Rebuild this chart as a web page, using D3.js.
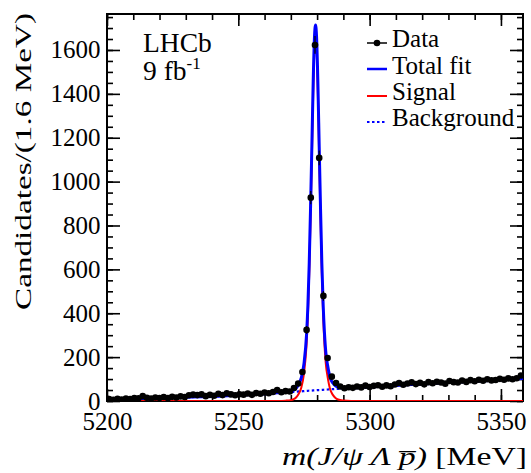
<!DOCTYPE html>
<html><head><meta charset="utf-8">
<script src="https://cdn.jsdelivr.net/npm/d3@7"></script>
<style>
body{margin:0;background:#fff}
svg{display:block}
text{font-family:"Liberation Serif","Times New Roman",serif;fill:#000}
</style>
</head><body>
<svg id="c" width="531" height="473"></svg>
<script>
// ---- data ----
const binCenters=[5200.8,5202.4,5204.0,5205.6,5207.2,5208.8,5210.4,5212.0,5213.6,5215.2,
5216.8,5218.4,5220.0,5221.6,5223.2,5224.8,5226.4,5228.0,5229.6,5231.2,
5232.8,5234.4,5236.0,5237.6,5239.2,5240.8,5242.4,5244.0,5245.6,5247.2,
5248.8,5250.4,5252.0,5253.6,5255.2,5256.8,5258.4,5260.0,5261.6,5263.2,
5264.8,5266.4,5268.0,5269.6,5271.2,5272.8,5274.4,5276.0,5277.6,5279.2,
5280.8,5282.4,5284.0,5285.6,5287.2,5288.8,5290.4,5292.0,5293.6,5295.2,
5296.8,5298.4,5300.0,5301.6,5303.2,5304.8,5306.4,5308.0,5309.6,5311.2,
5312.8,5314.4,5316.0,5317.6,5319.2,5320.8,5322.4,5324.0,5325.6,5327.2,
5328.8,5330.4,5332.0,5333.6,5335.2,5336.8,5338.4,5340.0,5341.6,5343.2,
5344.8,5346.4,5348.0,5349.6,5351.2,5352.8,5354.4,5356.0,5357.6];
const counts=[9,6,10,7,11,9,14,12,22,15,
11,16,14,18,13,19,16,21,18,26,
29,27,30,22,28,24,33,27,35,30,
26,31,29,34,28,36,33,39,35,41,
50,40,45,43,59,80,132,324,927,1623,
1108,479,196,111,82,66,58,63,60,66,
62,70,64,69,72,65,71,67,75,82,
74,80,85,77,83,76,86,81,88,84,
79,91,86,84,93,87,95,90,97,92,
99,94,96,101,97,103,99,104,116];

const fitMass=[5200,5210,5220,5230,5240,5250,5260,5265,5268,5270,5271,5272,5273,5274,5275,5276,5276.5,5277,5277.5,5278,5278.5,5279,5279.4,5279.8,5280.3,5280.8,5281.3,5281.8,5282.3,5282.8,5283.4,5284,5285,5286,5287,5288,5290,5293,5300,5310,5320,5330,5340,5350,5358.4];
const fitSignal=[0,0,0,0,0,0,0,0.3,1.5,4,8,16,33,62,125,260,390,580,830,1110,1400,1610,1665,1610,1400,1110,830,580,390,260,160,110,52,28,14,7,2.5,0.5,0,0,0,0,0,0,0];
const fitBackground=[7,10,13,17,21,26,33,37,39.5,41,42,42.5,43.5,44,45,46,46.5,47,47,47.5,48,48.5,48.5,49,49.5,49.5,50,50.5,51,51.5,52,52.5,53,54,55,55.5,57,59,64,71,78,84,90,97,103];
const fitTotal=[7,10,13,17,21,26,33,37.3,41,45,50,58.5,76.5,106,170,306,436.5,627,877,1157.5,1448,1658.5,1713.5,1659,1449.5,1159.5,880,630.5,441,311.5,212,162.5,105,82,69,62.5,59.5,59.5,64,71,78,84,90,97,103];

const xTicks=[5200,5250,5300,5350];
const yTicks=[0,200,400,600,800,1000,1200,1400,1600];
const legendLabels=["Data","Total fit","Signal","Background"];

// ---- layout ----
const L=107,R=523,T=14,B=401;
const svg=d3.select("#c");
const x=d3.scaleLinear().domain([5200,5358.4]).range([L,R]);
const y=d3.scaleLinear().domain([0,1764]).range([B,T]);

svg.append("defs").append("clipPath").attr("id","clip")
  .append("rect").attr("x",L).attr("y",T).attr("width",R-L).attr("height",B-T);

// axes ticks
const xMinor=d3.range(5200,5358,10);
const yMinor=d3.range(0,1764,50);
function styleAxis(g){g.select(".domain").remove();g.selectAll("line").attr("stroke","#000").attr("stroke-width",1.6);}
svg.append("g").attr("transform",`translate(0,${B})`)
  .call(d3.axisBottom(x).tickValues(xMinor).tickSize(-6).tickFormat("")).call(styleAxis);
svg.append("g").attr("transform",`translate(0,${T})`)
  .call(d3.axisTop(x).tickValues(xMinor).tickSize(-6).tickFormat("")).call(styleAxis);
svg.append("g").attr("transform",`translate(0,${T})`)
  .call(d3.axisTop(x).tickValues(xTicks).tickSize(-12).tickFormat("")).call(styleAxis);
svg.append("g").attr("transform",`translate(${L},0)`)
  .call(d3.axisLeft(y).tickValues(yMinor).tickSize(-6).tickFormat("")).call(styleAxis);
svg.append("g").attr("transform",`translate(${R},0)`)
  .call(d3.axisRight(y).tickValues(yMinor).tickSize(-6).tickFormat("")).call(styleAxis);
svg.append("g").attr("transform",`translate(${R},0)`)
  .call(d3.axisRight(y).tickValues(yTicks).tickSize(-13).tickFormat("")).call(styleAxis);

const xAx=svg.append("g").attr("transform",`translate(0,${B})`)
  .call(d3.axisBottom(x).tickValues(xTicks).tickSize(-12).tickPadding(11).tickFormat(d3.format("d")));
styleAxis(xAx);
xAx.selectAll("text").attr("font-size",25).attr("font-family","Liberation Serif").attr("fill","#000");

const yAx=svg.append("g").attr("transform",`translate(${L},0)`)
  .call(d3.axisLeft(y).tickValues(yTicks).tickSize(-13).tickPadding(6.5).tickFormat(d3.format("d")));
styleAxis(yAx);
yAx.selectAll("text").attr("font-size",25).attr("font-family","Liberation Serif").attr("fill","#000");

// frame
svg.append("rect").attr("x",L).attr("y",T).attr("width",R-L).attr("height",B-T)
  .attr("fill","none").attr("stroke","#000").attr("stroke-width",2);

// curves
const plot=svg.append("g").attr("clip-path","url(#clip)");
const idx=d3.range(fitMass.length);
const mk=arr=>d3.line().x(i=>x(fitMass[i])).y(i=>y(arr[i])).curve(d3.curveMonotoneX);
plot.append("path").attr("d",mk(fitBackground)(idx)).attr("fill","none")
  .attr("stroke","#0000ff").attr("stroke-width",2.2).attr("stroke-dasharray","2.5,2.5");
plot.append("path").attr("d",mk(fitSignal)(idx)).attr("fill","none")
  .attr("stroke","#ff0000").attr("stroke-width",2);
plot.append("path").attr("d",mk(fitTotal)(idx)).attr("fill","none")
  .attr("stroke","#0000ff").attr("stroke-width",3);

// data
const pts=plot.append("g");
pts.selectAll("line").data(counts).join("line")
  .attr("x1",(d,i)=>x(binCenters[i])).attr("x2",(d,i)=>x(binCenters[i]))
  .attr("y1",d=>y(d+Math.sqrt(d))).attr("y2",d=>y(Math.max(0,d-Math.sqrt(d))))
  .attr("stroke","#000").attr("stroke-width",1.2);
pts.selectAll("circle").data(counts).join("circle")
  .attr("cx",(d,i)=>x(binCenters[i])).attr("cy",d=>y(d)).attr("r",3.3).attr("fill","#000");

// labels
svg.append("text").attr("transform","translate(31,161.5) rotate(-90)")
  .attr("text-anchor","middle").attr("font-size",24)
  .attr("textLength",297).attr("lengthAdjust","spacingAndGlyphs")
  .text("Candidates/(1.6 MeV)");

const xt=svg.append("text").attr("x",282).attr("y",465).attr("font-size",25)
  .attr("textLength",245).attr("lengthAdjust","spacingAndGlyphs");
xt.append("tspan").attr("font-style","italic").text("m(J/\u03C8 \u039B p\u0305)");
xt.append("tspan").text(" [MeV]");

svg.append("text").attr("x",143).attr("y",52).attr("font-size",27.5).text("LHCb");
const lum=svg.append("text").attr("x",143).attr("y",80).attr("font-size",27.5);
lum.append("tspan").text("9 fb");
lum.append("tspan").attr("font-size",17).attr("dy",-11).text("-1");

// legend
const lg=svg.append("g");
const ly=[43,69,96,122], ty=[47,73.5,100,126];
legendLabels.forEach((lab,i)=>{
  lg.append("text").attr("x",392).attr("y",ty[i]).attr("font-size",25).text(lab);
});
lg.append("line").attr("x1",367).attr("x2",387).attr("y1",ly[0]).attr("y2",ly[0]).attr("stroke","#000").attr("stroke-width",1.5);
lg.append("circle").attr("cx",377).attr("cy",ly[0]).attr("r",3.3).attr("fill","#000");
lg.append("line").attr("x1",367).attr("x2",387).attr("y1",ly[1]).attr("y2",ly[1]).attr("stroke","#0000ff").attr("stroke-width",2.5);
lg.append("line").attr("x1",367).attr("x2",387).attr("y1",ly[2]).attr("y2",ly[2]).attr("stroke","#ff0000").attr("stroke-width",2);
lg.append("line").attr("x1",367).attr("x2",387).attr("y1",ly[3]).attr("y2",ly[3]).attr("stroke","#0000ff").attr("stroke-width",2.2).attr("stroke-dasharray","2.5,2.5");
</script>
</body></html>
